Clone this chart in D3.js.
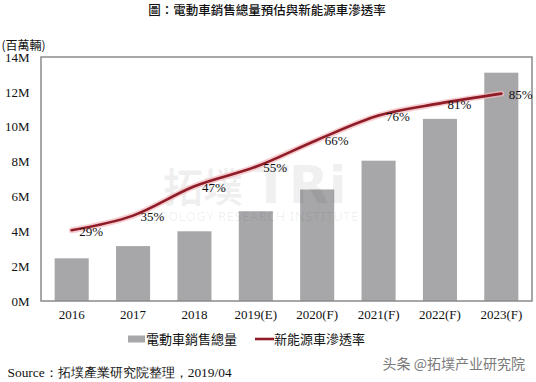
<!DOCTYPE html>
<html><head><meta charset="utf-8">
<script src="https://cdn.jsdelivr.net/npm/d3@7"></script>
<style>
body{margin:0;background:#fff;}
svg{display:block;}
</style></head>
<body>
<svg id="chart" width="536" height="382"></svg>
<script>
const years = ["2016","2017","2018","2019(E)","2020(F)","2021(F)","2022(F)","2023(F)"];
const sales = [2.45,3.15,4.0,5.15,6.4,8.05,10.45,13.1];
const penetration = [29,35,47,55,66,76,81,85];
const yTicks = [0,2,4,6,8,10,12,14];
const legendLabels = ["電動車銷售總量","新能源車滲透率"];
const titleText = "圖：電動車銷售總量預估與新能源車滲透率";
const unitText = "(百萬輛)";
const sourceText = "Source：拓墣產業研究院整理，2019/04";
const creditText = "头条 @拓墣产业研究院";

const svg = d3.select("#chart");
const L = 41, R = 532, T = 57, B = 301;
const serif = "'Liberation Serif','Times New Roman',serif";
const cjk = "'Noto Sans CJK TC','Noto Sans CJK SC',sans-serif";

const x = d3.scaleBand().domain(years).range([L, R]).paddingInner(0.445).paddingOuter(0.2225);
const y = d3.scaleLinear().domain([0, 14]).range([B, T]);
const y2 = d3.scaleLinear().domain([0, 100]).range([B, T]);

// title
svg.append("text").attr("x", 267).attr("y", 9.5).attr("text-anchor","middle")
  .attr("dominant-baseline","central").attr("font-family", cjk).attr("font-size", 12.5)
  .attr("font-weight", 500).attr("fill","#111").text(titleText);

svg.append("text").attr("x", 1.5).attr("y", 44).attr("dominant-baseline","central")
  .attr("font-family", cjk).attr("font-size", 12).attr("fill","#111").text(unitText);

// bars
svg.append("g").selectAll("rect").data(years).join("rect")
  .attr("x", d => x(d)).attr("width", x.bandwidth())
  .attr("y", (d,i) => y(sales[i])).attr("height", (d,i) => B - y(sales[i]))
  .attr("fill", "#a7a7a9");

// watermark (faint, behind labels)
const wm = svg.append("g").attr("pointer-events","none");
wm.append("text").attr("x", 203).attr("y", 185).attr("text-anchor","middle").attr("dominant-baseline","central")
  .attr("font-family", cjk).attr("font-size", 40).attr("font-weight", 700)
  .attr("fill", "#000").attr("fill-opacity", 0.06).text("拓墣");
wm.append("text").attr("x", 300).attr("y", 185).attr("text-anchor","middle").attr("dominant-baseline","central")
  .attr("font-family", "'DejaVu Sans',sans-serif").attr("font-size", 52).attr("font-weight", 700)
  .attr("fill", "#000").attr("fill-opacity", 0.06).text("TRi");
wm.append("text").attr("x", 250).attr("y", 216).attr("text-anchor","middle").attr("dominant-baseline","central")
  .attr("font-family", "'Noto Sans',sans-serif").attr("font-size", 12.5)
  .attr("fill", "#000").attr("fill-opacity", 0.07).attr("textLength", 216).text("TOPOLOGY RESEARCH INSTITUTE");

// frame
svg.append("rect").attr("x", L).attr("y", T).attr("width", R - L).attr("height", B - T)
  .attr("fill","none").attr("stroke","#8a8a8a").attr("stroke-width", 1.5);

// axes
const ya = svg.append("g").attr("transform", `translate(${L},0)`)
  .call(d3.axisLeft(y).tickValues(yTicks).tickFormat(d => d + "M").tickSize(0).tickPadding(11.5));
ya.select(".domain").remove();
ya.selectAll("text").attr("font-family", serif).attr("font-size", 13).attr("fill","#111");

const xa = svg.append("g").attr("transform", `translate(0,${B})`)
  .call(d3.axisBottom(x).tickSize(0).tickPadding(9));
xa.select(".domain").remove();
xa.selectAll("text").attr("font-family", serif).attr("font-size", 13).attr("fill","#111");

// line
const line = d3.line().x((d,i) => x(years[i]) + x.bandwidth()/2).y(d => y2(d)).curve(d3.curveMonotoneX);
svg.append("path").datum(penetration).attr("d", line).attr("fill","none")
  .attr("stroke","#f2b9bd").attr("stroke-width", 6).attr("stroke-opacity", 0.7).attr("stroke-linecap","round");
svg.append("path").datum(penetration).attr("d", line).attr("fill","none")
  .attr("stroke","#8e1b26").attr("stroke-width", 2.6).attr("stroke-linecap","round");

svg.append("g").selectAll("text").data(penetration).join("text")
  .attr("x", (d,i) => x(years[i]) + x.bandwidth()/2 + 7.5)
  .attr("y", d => y2(d) + 1).attr("dominant-baseline","central")
  .attr("font-family", serif).attr("font-size", 13).attr("fill","#111")
  .text(d => d + "%");

// legend
const lg = svg.append("g");
lg.append("rect").attr("x", 128).attr("y", 335.5).attr("width", 17).attr("height", 7).attr("fill","#a7a7a9");
lg.append("text").attr("x", 146).attr("y", 338.5).attr("dominant-baseline","central")
  .attr("font-family", cjk).attr("font-size", 13).attr("fill","#111").text(legendLabels[0]);
lg.append("line").attr("x1", 255).attr("x2", 274).attr("y1", 339).attr("y2", 339)
  .attr("stroke","#8e1b26").attr("stroke-width", 2.6);
lg.append("text").attr("x", 274).attr("y", 338.5).attr("dominant-baseline","central")
  .attr("font-family", cjk).attr("font-size", 13).attr("fill","#111").text(legendLabels[1]);

// source
svg.append("text").attr("x", 7.5).attr("y", 372.5).attr("dominant-baseline","central")
  .attr("font-family", serif).attr("font-size", 13.4).attr("fill","#111").text(sourceText);

svg.append("text").attr("x", 525).attr("y", 363).attr("text-anchor","end").attr("dominant-baseline","central")
  .attr("font-family", cjk).attr("font-size", 14).attr("fill","#7a7a7a").text(creditText);
</script>
</body></html>
